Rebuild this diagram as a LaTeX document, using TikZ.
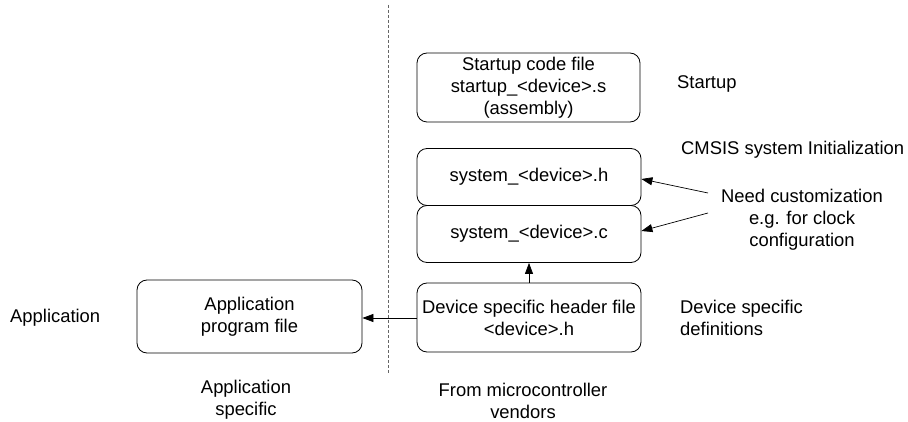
\documentclass[tikz,border=0pt]{standalone}
\usepackage{fontspec}
\setmainfont{Liberation Sans}
\usetikzlibrary{arrows.meta}
\begin{document}
\begin{tikzpicture}[x=1pt,y=-1pt,
  box/.style={draw, rounded corners=10pt, line width=0.8pt, align=center, inner sep=0pt},
  lbl/.style={align=center, font=\fontsize{18.4}{22}\selectfont, inner sep=0pt},
  arr/.style={-{Triangle[length=11pt,width=8pt]}, line width=0.7pt}]
\useasboundingbox (0,0) rectangle (908,422);
\fill[white] (0,0) rectangle (908,422);
\coordinate (dtop) at (388,5);
\coordinate (dbot) at (388,373);
\draw[dashed, dash pattern=on 3pt off 2pt, line width=0.7pt, gray!80!black] (dtop) -- (dbot);
% boxes
\node[box, minimum width=223pt, minimum height=69pt, lbl] (start) at (528.5,87.5) {Startup code file\\startup\_<device>.s\\(assembly)};
\node[box, minimum width=224pt, minimum height=57pt, lbl] (sysh) at (529,177) {system\_<device>.h};
\node[box, minimum width=224pt, minimum height=57pt, lbl] (sysc) at (529,234) {system\_<device>.c};
\node[box, minimum width=224pt, minimum height=69pt, lbl] (dev) at (529,317.5) {Device specific header file\\<device>.h};
\node[box, minimum width=225pt, minimum height=73pt, lbl] (app) at (249.5,316.5) {Application\\program file};
% labels
\node[lbl, anchor=west] (lstart) at (677,84) {Startup};
\node[lbl, anchor=west] (lcmsis) at (681,150) {CMSIS system Initialization};
\node[lbl] (lneed) at (802,220) {Need customization\\e.g. for clock\\configuration};
\node[lbl, anchor=west, align=left] (ldev) at (680,318) {Device specific\\definitions};
\node[lbl, anchor=west] (lapp) at (10,318) {Application};
\node[lbl] (lappspec) at (246,400) {Application\\specific};
\node[lbl] (lvend) at (523,401) {From microcontroller\\vendors};
% connectors
\coordinate (n1) at (708,193);
\coordinate (n2) at (708,213);
\draw[arr] (n1) -- (sysh.east |- 0,179);
\draw[arr] (n2) -- (sysc.east |- 0,231);
\draw[arr] (dev.north) -- (sysc.south);
\draw[arr] (dev.west |- 0,318) -- (app.east |- 0,318);
\end{tikzpicture}
\end{document}
